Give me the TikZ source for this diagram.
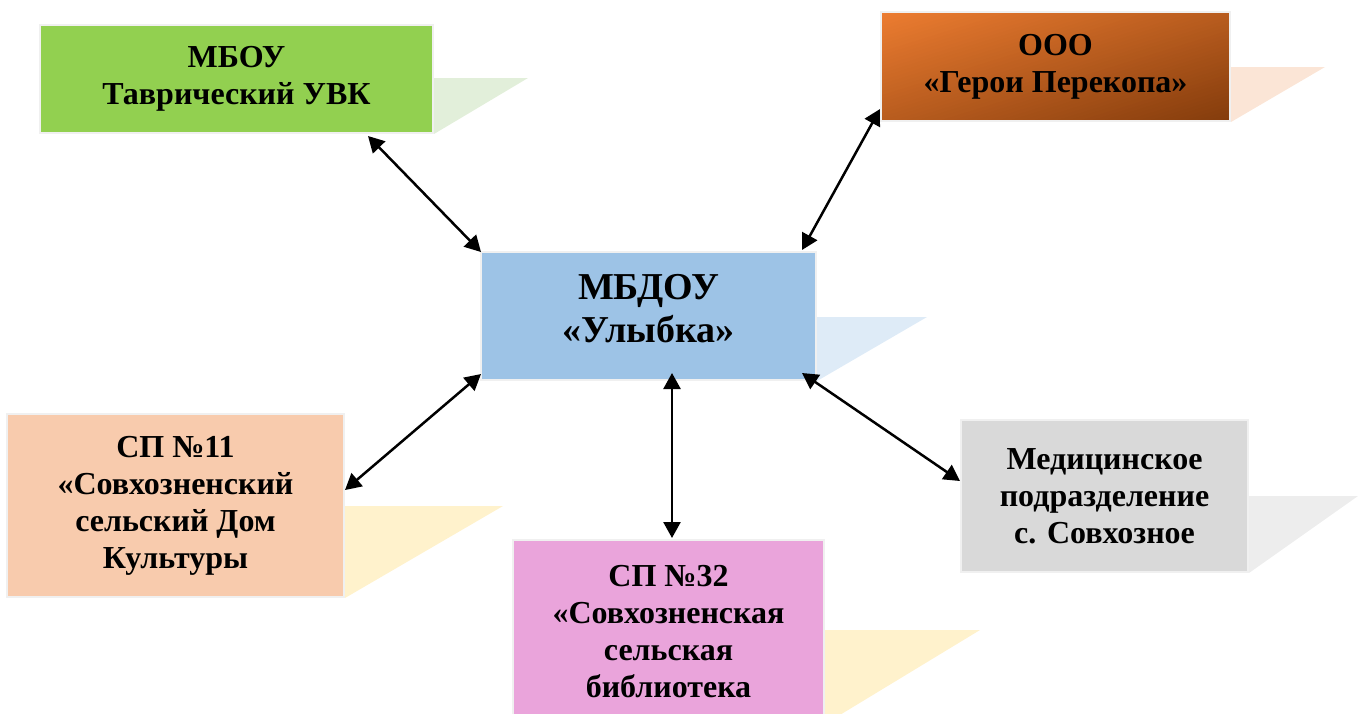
\documentclass[tikz,border=0pt]{standalone}
\usepackage{fontspec}
\setmainfont{Liberation Serif}
\usetikzlibrary{arrows.meta,backgrounds}
\definecolor{cgreen}{RGB}{146,208,80}
\definecolor{cgreensh}{RGB}{226,239,218}
\definecolor{corangeA}{RGB}{237,125,49}
\definecolor{corangeB}{RGB}{132,60,12}
\definecolor{corangesh}{RGB}{251,229,214}
\definecolor{cblue}{RGB}{157,195,230}
\definecolor{cbluesh}{RGB}{222,235,247}
\definecolor{cpeach}{RGB}{248,203,173}
\definecolor{cyellowsh}{RGB}{255,242,204}
\definecolor{cpink}{RGB}{234,164,219}
\definecolor{cgray}{RGB}{217,217,217}
\definecolor{cgraysh}{RGB}{237,237,237}
\definecolor{cborder}{RGB}{240,240,240}
\tikzset{
  orgbox/.style={draw=cborder, line width=2pt, inner sep=2pt, align=center,
    font=\fontsize{32}{37}\selectfont\bfseries},
  bigtext/.style={align=center, inner sep=0pt, font=\fontsize{38}{43}\selectfont\bfseries},
  arr/.style={line width=2.5pt, {Triangle[length=16pt,width=17pt]}-{Triangle[length=16pt,width=17pt]}}
}
\begin{document}
\begin{tikzpicture}[x=1pt,y=-1pt]
\useasboundingbox (0,0) rectangle (1359,713);
% boxes
\node[orgbox, fill=cgreen, minimum width=393pt, minimum height=108pt] (b1) at (236.5,79) {МБОУ\\Таврический УВК};
\node[orgbox, minimum width=349pt, minimum height=109pt] (b2) at (1055.5,66.5) {ООО\\«Герои Перекопа»};
\node[orgbox, fill=cblue, minimum width=335pt, minimum height=128pt] (b3) at (648.5,316) {};
\node[bigtext] (b3t) at (648.5,309) {МБДОУ\\«Улыбка»};
\node[orgbox, fill=cpeach, minimum width=337pt, minimum height=183pt] (b4) at (175.5,505.5) {СП №11\\«Совхозненский\\сельский Дом\\Культуры};
\node[orgbox, fill=cpink, minimum width=311pt, minimum height=183pt] (b5) at (668.5,631.5) {СП №32\\«Совхозненская\\сельская\\библиотека};
\node[orgbox, fill=cgray, minimum width=287pt, minimum height=152pt] (b6) at (1104.5,496) {Медицинское\\подразделение\\с. Совхозное};
% shadows and gradient
\begin{scope}[on background layer]
\fill[cgreensh] (b1.south east |- 0,78) -- (528,78) -- (b1.south east) -- cycle;
\fill[corangesh] (b2.south east |- 0,67) -- (1325,67) -- (b2.south east) -- cycle;
\fill[cbluesh] (b3.south east |- 0,317) -- (927,317) -- (b3.south east) -- cycle;
\fill[cyellowsh] (b4.south east |- 0,506) -- (503,506) -- (b4.south east) -- cycle;
\fill[cyellowsh] (b5.south east |- 0,630) -- (980,630) -- (b5.south east) -- cycle;
\fill[cgraysh] (b6.south east |- 0,496) -- (1358,496) -- (b6.south east) -- cycle;
\begin{scope}
\clip ([xshift=1.5pt,yshift=-1.5pt]b2.north west) rectangle ([xshift=-1.5pt,yshift=1.5pt]b2.south east);
\foreach \i in {0,...,59} {
  \pgfmathsetmacro\sa{2*\i/60}
  \pgfmathsetmacro\pc{100*(\i+0.5)/60}
  \fill[corangeB!\pc!corangeA]
    ({881+\sa*349+349},{12-109}) -- ({881+2.1*349+349},{12-109})
    -- ({881+2.1*349-3*349},{12+3*109}) -- ({881+\sa*349-3*349},{12+3*109}) -- cycle;
}
\end{scope}
\end{scope}
% connectors
\draw[arr] ([xshift=-66pt,yshift=-2pt]b1.south east) -- ([xshift=1pt,yshift=-1pt]b3.north west);
\draw[arr] ([xshift=-15pt,yshift=1pt]b3.north east) -- ([yshift=13pt]b2.south west);
\draw[arr] ([xshift=1pt,yshift=7pt]b3.south west) -- ([yshift=-77pt]b4.north east);
\draw[arr] ([xshift=23.5pt,yshift=8pt]b3.south) -- ([xshift=23.5pt,yshift=1pt]b3.south |- b5.north);
\draw[arr] ([xshift=-15pt,yshift=8pt]b3.south east) -- ([yshift=-62pt]b6.north west);
\end{tikzpicture}
\end{document}
